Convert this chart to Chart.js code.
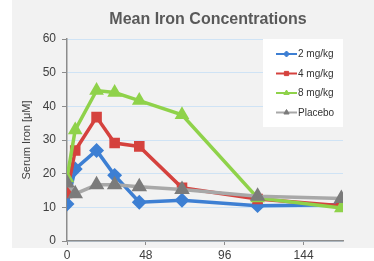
<!DOCTYPE html>
<html>
<head>
<meta charset="utf-8">
<script src="https://cdn.jsdelivr.net/npm/chart.js@4/dist/chart.umd.min.js"></script>
<style>
  html, body { margin: 0; padding: 0; background: #fff; }
  #wrap { width: 374px; height: 261px; }
</style>
</head>
<body>
<div id="wrap"><canvas id="iron" width="374" height="261"></canvas></div>
<script>
// hours after dose
const hours = [0, 5, 18, 29, 44, 70, 116, 167];
const seriesNames = ['2 mg/kg', '4 mg/kg', '8 mg/kg', 'Placebo'];
const dose2 = [11.0, 21.4, 26.9, 19.5, 11.5, 12.1, 10.5, 10.8];
const dose4 = [14.3, 26.9, 36.8, 29.1, 28.1, 15.8, 12.5, 10.5];
const dose8 = [18.7, 33.0, 44.7, 44.1, 41.7, 37.5, 12.8, 9.8];
const placebo = [17.2, 14.0, 16.7, 16.7, 16.1, 15.3, 13.3, 12.6];
const xTicks = [0, 48, 96, 144];

const pts = (vals) => vals.map((v, i) => ({ x: hours[i], y: v }));

const mk = (label, vals, line, marker, style, radius, order) => ({
    label: label,
    data: pts(vals),
    borderColor: line,
    backgroundColor: marker,
    pointBackgroundColor: marker,
    pointBorderColor: marker,
    pointStyle: style,
    pointRadius: radius,
    borderWidth: 3.5,
    tension: 0,
    order: order
});

const datasets = [
    mk(seriesNames[0], dose2, '#3d7fd3', '#3d7fd3', 'rectRot', 5, 4),
    mk(seriesNames[1], dose4, '#d5423e', '#d5423e', 'rect', 5, 3),
    mk(seriesNames[2], dose8, '#8fd24a', '#8fd24a', 'triangle', 5, 2),
    mk(seriesNames[3], placebo, '#a8a8a8', '#7b7b7b', 'triangle', 5.5, 1)
];

// background panel, title and the boxed legend inside the plot
const decor = {
    id: 'decor',
    beforeDraw(chart) {
        const c = chart.ctx, a = chart.chartArea;
        c.save();
        c.fillStyle = '#fff';
        c.fillRect(0, 0, chart.width, chart.height);
        c.fillStyle = '#f2f2f2';
        c.fillRect(12, 0, chart.width - 12, a.bottom + 7);
        c.restore();
    },
    afterDraw(chart) {
        const c = chart.ctx, a = chart.chartArea;
        c.save();
        c.fillStyle = '#595959';
        c.font = 'bold 16px "Liberation Sans", Arial, sans-serif';
        c.textAlign = 'center';
        c.textBaseline = 'middle';
        c.fillText('Mean Iron Concentrations', (a.left + a.right) / 2 + 3, 20);

        const bx = a.right - 80, by = a.top, bw = 80, bh = 88;
        c.fillStyle = '#ffffff';
        c.fillRect(bx, by, bw, bh);
        c.font = '10px "Liberation Sans", Arial, sans-serif';
        c.textAlign = 'left';
        chart.data.datasets.forEach((ds, i) => {
            const y = by + 15 + i * 19.5;
            c.strokeStyle = ds.borderColor;
            c.lineWidth = 2;
            c.beginPath();
            c.moveTo(bx + 13, y);
            c.lineTo(bx + 34, y);
            c.stroke();
            if (Chart.helpers && Chart.helpers.drawPoint) {
                c.fillStyle = ds.pointBackgroundColor;
                c.strokeStyle = ds.pointBorderColor;
                c.lineWidth = 1;
                Chart.helpers.drawPoint(c, { pointStyle: ds.pointStyle, radius: 3, rotation: 0, borderWidth: 1 }, bx + 23.5, y);
            }
            c.fillStyle = '#333333';
            c.fillText(ds.label, bx + 35, y + 0.5);
        });
        c.restore();
    }
};

new Chart(document.getElementById('iron'), {
    type: 'line',
    data: { datasets: datasets },
    plugins: [decor],
    options: {
        responsive: false,
        animation: false,
        events: [],
        layout: { padding: { top: 39, right: 31, left: 0, bottom: 0 } },
        plugins: {
            legend: { display: false },
            title: { display: false },
            tooltip: { enabled: false }
        },
        scales: {
            x: {
                type: 'linear',
                min: 0,
                max: 168,
                afterBuildTicks: (s) => { s.ticks = xTicks.map(v => ({ value: v })); },
                afterFit: (s) => { s.height = 20; },
                grid: { drawOnChartArea: false, tickLength: 4, color: '#8c8c8c' },
                border: { color: '#8c8c8c', width: 1.5 },
                ticks: { padding: 3, color: '#404040', font: { family: '"Liberation Sans", Arial, sans-serif', size: 12 } }
            },
            y: {
                min: 0,
                max: 60,
                afterFit: (s) => { s.width = 67; },
                ticks: { stepSize: 10, padding: 6, color: '#404040', font: { family: '"Liberation Sans", Arial, sans-serif', size: 12 } },
                grid: { color: '#cfe3f5', lineWidth: 1, tickLength: 5, tickColor: '#8c8c8c' },
                border: { color: '#8c8c8c', width: 1.5 },
                title: {
                    display: true,
                    text: 'Serum Iron [μM]',
                    color: '#404040',
                    padding: { top: 20, bottom: 0 },
                    font: { family: '"Liberation Sans", Arial, sans-serif', size: 11 }
                }
            }
        }
    }
});
</script>
</body>
</html>
